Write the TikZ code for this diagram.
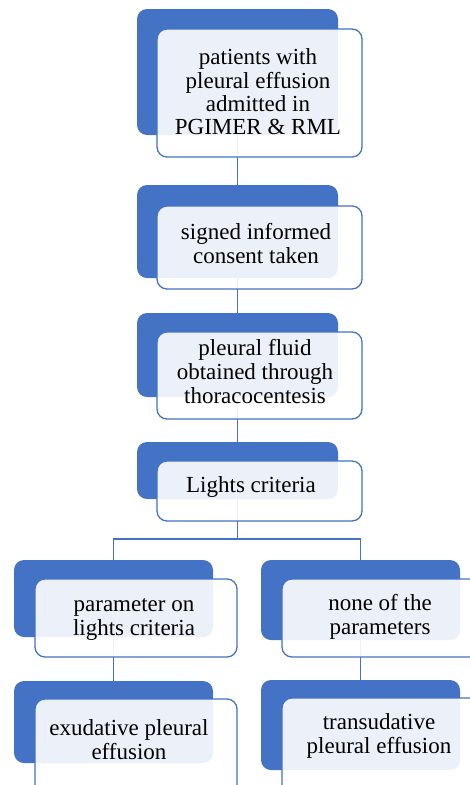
\documentclass[tikz,border=0pt]{standalone}
\usepackage{fontspec}
\setmainfont{Liberation Serif}
\newfontfamily\boxfont{Liberation Serif}
\usetikzlibrary{fit}
\definecolor{accent}{HTML}{4472C4}
\begin{document}
\begin{tikzpicture}[x=1pt,y=-1pt,
  backbox/.style={fill=accent, draw=none, rounded corners=10pt, inner sep=0pt, outer sep=0pt},
  frontbox/.style={fill=white, fill opacity=0.9, draw=accent, draw opacity=1, line width=1.3pt, rounded corners=10pt, inner sep=0pt, outer sep=0pt},
  conn/.style={draw=accent, line width=1.4pt},
  txt/.style={font=\boxfont\fontsize{23}{24}\selectfont, align=center, inner sep=0pt, text=black}]
\useasboundingbox (0,0) rectangle (470,785);
\clip (0,0) rectangle (470,785);
% back boxes
\node[backbox, fit={(137,9) (338,135)}] (b1) {};
\node[backbox, fit={(137,185) (338,278)}] (b2) {};
\node[backbox, fit={(137,313) (338,397)}] (b3) {};
\node[backbox, fit={(137,442) (338,499)}] (b4) {};
\node[backbox, fit={(14,560) (213,637)}] (b5l) {};
\node[backbox, fit={(261,560) (460,640)}] (b5r) {};
\node[backbox, fit={(14,681) (213,763)}] (b6l) {};
\node[backbox, fit={(261,680) (460,770)}] (b6r) {};
% connectors
\coordinate (hub) at (237.5,539);
\draw[conn] (b1.south) -- (b2.north);
\draw[conn] (b2.south) -- (b3.north);
\draw[conn] (b3.south) -- (b4.north);
\draw[conn] (b4.south) -- (hub) -| (b5l.north);
\draw[conn] (hub) -| (b5r.north);
\draw[conn] (b5l.south) -- (b6l.north);
\draw[conn] (b5r.south) -- (b6r.north);
% front boxes
\node[frontbox, fit={(157,29) (362,157)}] (f1) {};
\node[frontbox, fit={(157,206) (362,289)}] (f2) {};
\node[frontbox, fit={(157,332) (362,419)}] (f3) {};
\node[frontbox, fit={(157,461) (362,521)}] (f4) {};
\node[frontbox, fit={(35,579) (237,657)}] (f5l) {};
\node[frontbox, fit={(282,579) (484,657)}] (f5r) {};
\node[frontbox, fit={(35,699) (237,800)}] (f6l) {};
\node[frontbox, fit={(282,698) (484,800)}] (f6r) {};
% texts
\node[txt, font=\boxfont\fontsize{23}{23.3}\selectfont] (t1) at (258,92) {patients with\\pleural effusion\\admitted in\\PGIMER \& RML};
\node[txt] (t2) at (256,244) {signed informed\\consent taken};
\node[txt] (t3) at (255,372) {pleural fluid\\obtained through\\thoracocentesis};
\node[txt] (t4) at (251,487) {Lights criteria};
\node[txt] (t5l) at (134,619) {parameter on\\lights criteria};
\node[txt] (t5r) at (380,617) {none of the\\parameters};
\node[txt] (t6l) at (129,740) {exudative pleural\\effusion};
\node[txt] (t6r) at (379,736) {transudative\\pleural effusion};
\end{tikzpicture}
\end{document}
